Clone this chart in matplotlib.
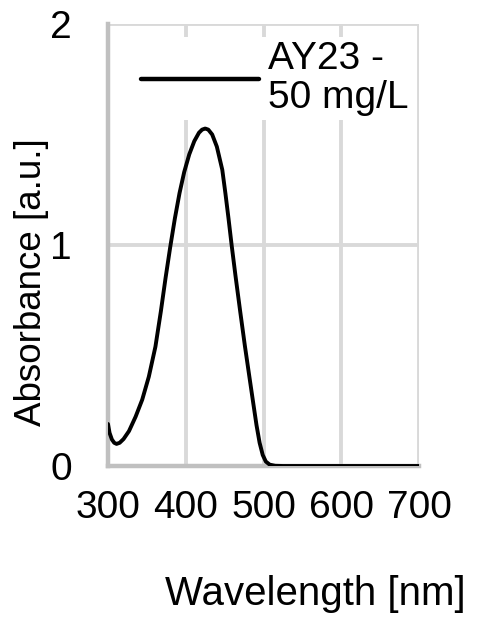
import matplotlib
matplotlib.use("Agg")
import matplotlib.pyplot as plt

plt.rcParams['font.family'] = ['Liberation Sans', 'DejaVu Sans']

wavelength = [300, 302, 305, 308, 311, 315, 320, 327, 335.5, 344, 352.5, 361,
              368, 374, 380, 386, 392, 398, 404.5, 411, 417, 421, 425, 429,
              434, 440, 447, 451, 455, 459, 464, 470, 476, 482, 487, 491, 495,
              499, 503, 508, 515, 525, 560, 600, 650, 700]
absorbance = [0.19, 0.15, 0.12, 0.105, 0.10, 0.105, 0.122, 0.158, 0.223, 0.30,
              0.404, 0.54, 0.70, 0.85, 0.99, 1.12, 1.235, 1.33, 1.41, 1.47,
              1.508, 1.522, 1.527, 1.522, 1.50, 1.445, 1.34, 1.234, 1.12, 1.0,
              0.86, 0.70, 0.545, 0.40, 0.28, 0.185, 0.105, 0.05, 0.02, 0.006,
              0.001, 0.0, 0.0, 0.0, 0.0, 0.0]
series_label = "AY23 -\n50 mg/L"
xticks = [300, 400, 500, 600, 700]
yticks = [0, 1, 2]

W, H = 478, 622
fig = plt.figure(figsize=(W / 100, H / 100), dpi=100)
ax = fig.add_axes([108 / W, (H - 466) / H, 311 / W, (466 - 24) / H])

grid_c = '#d9d9d9'
ax.plot(wavelength, absorbance, color='black', lw=2.8, label=series_label,
        solid_joinstyle='round', solid_capstyle='round', zorder=3)
ax.set_xlim(300, 700)
ax.set_ylim(0, 2)
ax.set_xticks(xticks)
ax.set_yticks(yticks)
ax.grid(True, color=grid_c, lw=2.8, zorder=0)
ax.set_axisbelow(True)
for s in ['top', 'right']:
    ax.spines[s].set_visible(False)
for s in ['left', 'bottom']:
    ax.spines[s].set_color('#c0c0c0')
    ax.spines[s].set_linewidth(3.2)
ax.tick_params(axis='both', length=0, labelsize=28, colors='black')
ax.tick_params(axis='y', pad=26)
ax.tick_params(axis='x', pad=17)

leg = ax.legend(loc='upper left', bbox_to_anchor=(0.093, 0.970), frameon=True,
                fontsize=28, handlelength=3.03, handletextpad=0.23,
                borderpad=0.1, borderaxespad=0.0, labelspacing=0.1)
leg.get_frame().set_facecolor('white')
leg.get_frame().set_edgecolor('none')
leg.get_frame().set_alpha(1)
leg.get_frame().set_boxstyle('square', pad=0)
for t in leg.get_texts():
    t.set_linespacing(1.09)
for ln in leg.get_lines():
    ln.set_linewidth(3.2)

fig.text(315 / W, (H - 605) / H, "Wavelength [nm]", fontsize=29,
         ha='center', va='baseline')
fig.text(32 / W, (H - 282.5) / H, "Absorbance [a.u.]", fontsize=26.5,
         rotation=90, ha='center', va='center')

fig.savefig("out.png", dpi=100)
